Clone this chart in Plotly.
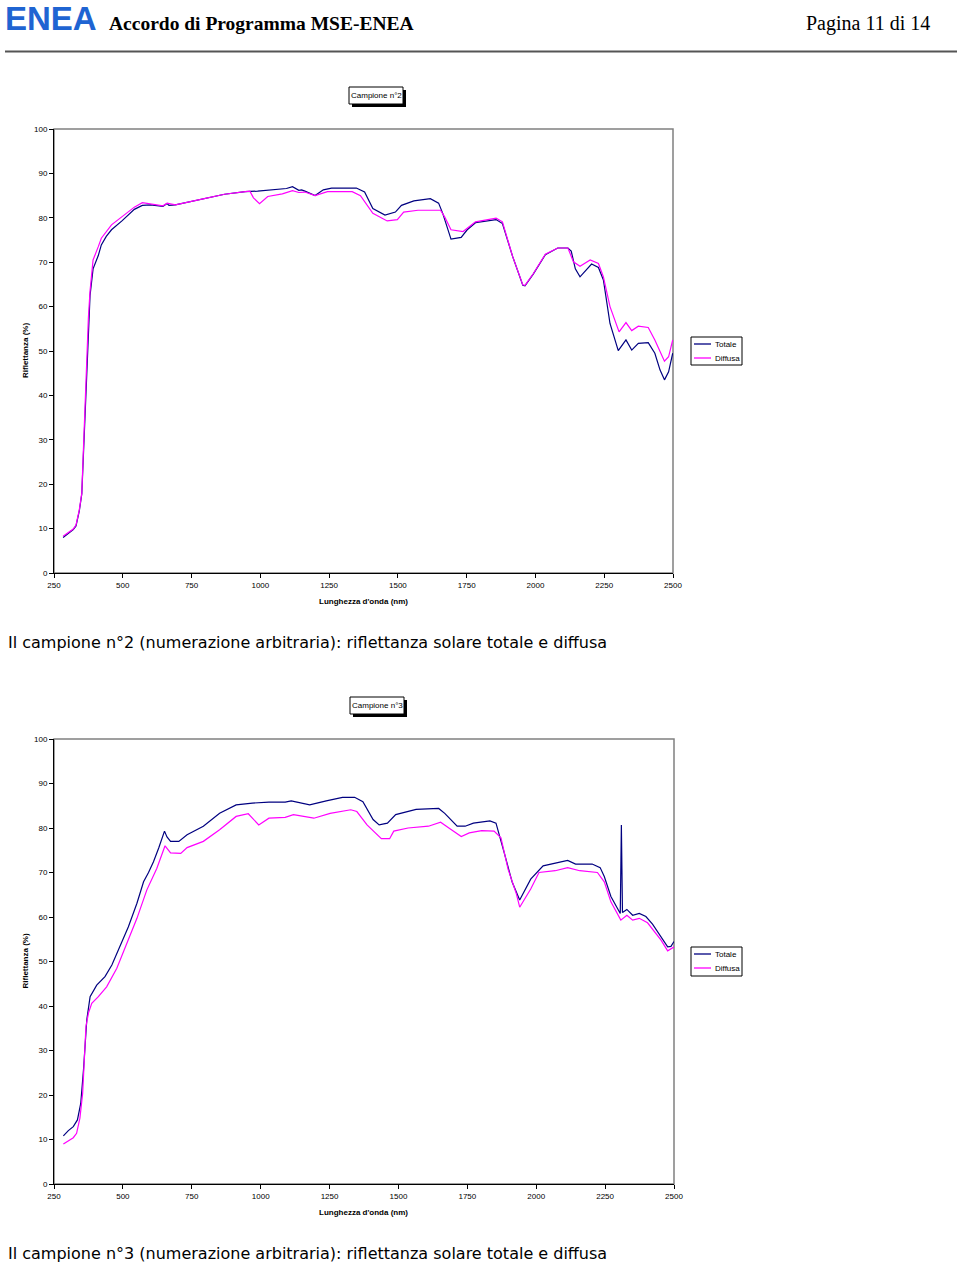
import plotly.graph_objects as go

# ---------------- DATA ----------------
# Campione n°2
wl_c2_tot = [283, 302, 320, 330, 342, 351, 357, 363, 369, 375, 381, 392, 411, 422, 440, 459, 497, 542, 571, 601,
             646, 661, 668, 691, 796, 870, 945, 990, 1095, 1117, 1140, 1150, 1162, 1199, 1229, 1259, 1349, 1379,
             1409, 1453, 1491, 1513, 1558, 1618, 1648, 1663, 1693, 1730, 1752, 1782, 1857, 1880, 1917, 1954, 1962,
             1992, 2036, 2081, 2118, 2130, 2145, 2162, 2204, 2229, 2247, 2271, 2301, 2329, 2350, 2374, 2410, 2434,
             2453, 2469, 2484, 2499]
r_c2_tot = [8.0, 9.0, 9.8, 10.6, 14.0, 17.8, 27.0, 36.0, 48.0, 56.5, 62.5, 68.5, 71.5, 73.9, 75.8, 77.3, 79.3, 81.9,
            82.8, 82.9, 82.6, 83.2, 82.8, 82.9, 84.3, 85.3, 85.9, 86.0, 86.6, 87.0, 86.2, 86.3, 86.0, 85.0, 86.3,
            86.7, 86.7, 85.8, 82.1, 80.6, 81.3, 82.8, 83.8, 84.3, 83.3, 81.0, 75.2, 75.6, 77.3, 78.9, 79.6, 78.7,
            71.3, 64.8, 64.7, 67.3, 71.7, 73.2, 73.2, 72.5, 68.5, 66.7, 69.6, 68.8, 66.0, 56.2, 50.1, 52.5, 50.2,
            51.7, 51.9, 49.5, 45.7, 43.5, 45.3, 49.5]

wl_c2_dif = [283, 302, 320, 330, 342, 351, 357, 363, 369, 375, 381, 392, 411, 422, 459, 497, 542, 571, 601, 646,
             661, 691, 796, 870, 945, 962, 975, 997, 1027, 1080, 1117, 1140, 1162, 1199, 1244, 1334, 1364, 1409,
             1461, 1498, 1521, 1573, 1655, 1670, 1693, 1737, 1782, 1857, 1880, 1917, 1954, 1962, 1992, 2036, 2081,
             2118, 2138, 2162, 2199, 2229, 2247, 2271, 2304, 2329, 2350, 2374, 2410, 2434, 2469, 2484, 2499]
r_c2_dif = [8.3, 9.2, 9.9, 10.8, 14.2, 18.0, 27.5, 37.0, 49.0, 57.5, 63.5, 70.5, 73.5, 75.4, 78.4, 80.2, 82.4, 83.4,
            83.1, 82.7, 83.3, 82.9, 84.3, 85.3, 85.9, 86.0, 84.5, 83.2, 84.8, 85.4, 86.1, 85.7, 85.8, 85.0, 85.9,
            85.9, 85.0, 81.0, 79.3, 79.6, 81.3, 81.7, 81.7, 80.2, 77.3, 76.9, 79.1, 79.9, 79.1, 71.3, 64.9, 64.8,
            67.4, 71.8, 73.2, 73.2, 70.1, 69.1, 70.5, 69.7, 66.7, 60.0, 54.3, 56.4, 54.6, 55.6, 55.3, 52.5, 47.7,
            48.7, 52.5]

# Campione n°3
wl_c3_tot = [284, 302, 320, 335, 347, 357, 369, 381, 405, 435, 460, 490, 520, 551, 575, 593, 611, 630, 645, 651,
             660, 673, 703, 733, 792, 851, 911, 970, 1030, 1089, 1111, 1178, 1238, 1297, 1341, 1371, 1408, 1430,
             1460, 1490, 1564, 1646, 1668, 1713, 1742, 1772, 1832, 1854, 1884, 1913, 1940, 1980, 2025, 2069, 2114,
             2143, 2203, 2232, 2247, 2271, 2305, 2309, 2313, 2329, 2350, 2374, 2398, 2422, 2453, 2477, 2489, 2500]
r_c3_tot = [10.8, 12.0, 12.9, 14.4, 18.1, 25.6, 36.9, 42.1, 44.7, 46.6, 49.2, 53.3, 57.8, 63.1, 67.9, 70.0, 72.4,
            75.5, 78.0, 79.3, 78.0, 77.0, 77.0, 78.5, 80.4, 83.3, 85.2, 85.6, 85.8, 85.8, 86.1, 85.2, 86.1, 86.9,
            86.9, 85.9, 81.9, 80.7, 81.1, 83.0, 84.2, 84.4, 83.3, 80.4, 80.4, 81.1, 81.6, 81.1, 74.4, 67.8, 63.8,
            68.5, 71.5, 72.1, 72.7, 71.9, 71.9, 71.1, 69.1, 64.6, 60.8, 80.7, 61.0, 61.7, 60.4, 60.8, 60.1, 58.4,
            55.6, 53.3, 53.4, 54.5]

wl_c3_dif = [284, 320, 332, 344, 354, 366, 375, 387, 411, 441, 478, 514, 551, 587, 623, 653, 673, 710, 733, 792,
             851, 911, 955, 970, 993, 1030, 1089, 1119, 1193, 1252, 1327, 1349, 1386, 1438, 1468, 1483, 1535, 1609,
             1653, 1683, 1728, 1757, 1802, 1847, 1872, 1898, 1928, 1940, 1980, 2010, 2069, 2114, 2158, 2222, 2247,
             2271, 2307, 2329, 2350, 2374, 2404, 2453, 2477, 2501]
r_c3_dif = [9.0, 10.4, 11.4, 14.8, 20.4, 35.4, 38.4, 40.6, 42.1, 44.3, 48.5, 54.1, 59.7, 66.1, 70.9, 76.0, 74.4,
            74.3, 75.6, 77.0, 79.6, 82.6, 83.2, 82.2, 80.7, 82.2, 82.4, 83.0, 82.2, 83.3, 84.1, 83.7, 80.7, 77.6,
            77.6, 79.3, 80.0, 80.4, 81.3, 80.0, 78.1, 78.9, 79.4, 79.3, 77.8, 70.7, 65.2, 62.2, 66.3, 70.0, 70.4,
            71.1, 70.4, 70.0, 67.9, 63.4, 59.3, 60.4, 59.3, 59.7, 58.7, 54.8, 52.4, 53.3]

x_ticks = [250, 500, 750, 1000, 1250, 1500, 1750, 2000, 2250, 2500]
y_ticks = [0, 10, 20, 30, 40, 50, 60, 70, 80, 90, 100]
series_names = ["Totale", "Diffusa"]
chart_titles = ["Campione n°2", "Campione n°3"]
captions = ["Il campione n°2 (numerazione arbitraria): riflettanza solare totale e diffusa",
            "Il campione n°3 (numerazione arbitraria): riflettanza solare totale e diffusa"]
x_title = "Lunghezza d'onda (nm)"
y_title = "Riflettanza (%)"

# ---------------- LAYOUT ----------------
W, H = 960, 1266
COL_TOT = "#000080"
COL_DIF = "#FF00FF"
SANS = "Liberation Sans, Arial, sans-serif"


def px(x):
    return x / W


def py(y):
    return 1 - y / H


fig = go.Figure()
fig.add_trace(go.Scatter(x=wl_c2_tot, y=r_c2_tot, mode="lines", name=series_names[0],
                         line=dict(color=COL_TOT, width=1.2), xaxis="x", yaxis="y", showlegend=False))
fig.add_trace(go.Scatter(x=wl_c2_dif, y=r_c2_dif, mode="lines", name=series_names[1],
                         line=dict(color=COL_DIF, width=1.2), xaxis="x", yaxis="y", showlegend=False))
fig.add_trace(go.Scatter(x=wl_c3_tot, y=r_c3_tot, mode="lines", name=series_names[0],
                         line=dict(color=COL_TOT, width=1.2), xaxis="x2", yaxis="y2", showlegend=False))
fig.add_trace(go.Scatter(x=wl_c3_dif, y=r_c3_dif, mode="lines", name=series_names[1],
                         line=dict(color=COL_DIF, width=1.2), xaxis="x2", yaxis="y2", showlegend=False))

axis_common = dict(showline=True, linecolor="black", linewidth=1, ticks="outside", ticklen=4,
                   tickcolor="black", showgrid=False, zeroline=False, automargin=False,
                   tickfont=dict(family=SANS, size=8, color="black"))

fig.update_layout(
    template="none",
    width=W, height=H, margin=dict(l=0, r=0, t=0, b=0, pad=0, autoexpand=False),
    paper_bgcolor="white", plot_bgcolor="white", showlegend=False,
    xaxis=dict(domain=[px(54), px(673)], anchor="y", range=[250, 2500], tickvals=x_ticks, **axis_common),
    yaxis=dict(domain=[py(573), py(129)], anchor="x", range=[0, 100], tickvals=y_ticks, **axis_common),
    xaxis2=dict(domain=[px(54), px(674)], anchor="y2", range=[250, 2500], tickvals=x_ticks, **axis_common),
    yaxis2=dict(domain=[py(1184), py(739)], anchor="x2", range=[0, 100], tickvals=y_ticks, **axis_common),
)

shapes = []
annotations = []

# plot area gray borders
for xa, ya in (("x", "y"), ("x2", "y2")):
    shapes.append(dict(type="rect", xref=xa + " domain", yref=ya + " domain", x0=0, x1=1, y0=0, y1=1,
                       line=dict(color="#808080", width=1.5), layer="below"))

# header
annotations.append(dict(text="<b>ENEA</b>", x=px(3), y=py(18), xref="paper", yref="paper", xanchor="left",
                        yanchor="middle", showarrow=False,
                        font=dict(family=SANS, size=33, color="#1f64d2")))
annotations.append(dict(text="<b>Accordo di Programma MSE-ENEA</b>", x=px(107), y=py(24), xref="paper",
                        yref="paper", xanchor="left", yanchor="middle", showarrow=False,
                        font=dict(family="Liberation Serif, Times New Roman, serif", size=19.5, color="black")))
annotations.append(dict(text="Pagina 11 di 14", x=px(932), y=py(24), xref="paper", yref="paper",
                        xanchor="right", yanchor="middle", showarrow=False,
                        font=dict(family="Liberation Serif, Times New Roman, serif", size=20, color="black")))
shapes.append(dict(type="line", xref="paper", yref="paper", x0=px(5), x1=px(957), y0=py(51.5), y1=py(51.5),
                   line=dict(color="#555555", width=2)))

# per-chart decorations
chart_geo = [
    dict(top=129, bottom=573, title_box=(349, 87, 403, 104), legend_box=(691, 337, 742, 365), caption_y=642),
    dict(top=739, bottom=1184, title_box=(350, 697, 404, 714), legend_box=(691, 947, 742, 976), caption_y=1253),
]
for i, g in enumerate(chart_geo):
    x0, y0, x1, y1 = g["title_box"]
    shapes.append(dict(type="rect", xref="paper", yref="paper", x0=px(x0 + 3), x1=px(x1 + 3), y0=py(y1 + 3),
                       y1=py(y0 + 3), fillcolor="black", line=dict(width=0), layer="above"))
    shapes.append(dict(type="rect", xref="paper", yref="paper", x0=px(x0), x1=px(x1), y0=py(y1), y1=py(y0),
                       fillcolor="white", line=dict(color="black", width=1), layer="above"))
    annotations.append(dict(text=chart_titles[i], x=px((x0 + x1) / 2), y=py((y0 + y1) / 2), xref="paper",
                            yref="paper", xanchor="center", yanchor="middle", showarrow=False,
                            font=dict(family=SANS, size=8, color="black")))
    # legend
    lx0, ly0, lx1, ly1 = g["legend_box"]
    shapes.append(dict(type="rect", xref="paper", yref="paper", x0=px(lx0), x1=px(lx1), y0=py(ly1), y1=py(ly0),
                       fillcolor="white", line=dict(color="black", width=1), layer="above"))
    for j, (nm, col) in enumerate(zip(series_names, [COL_TOT, COL_DIF])):
        yy = ly0 + 7 + j * 14
        shapes.append(dict(type="line", xref="paper", yref="paper", x0=px(lx0 + 3), x1=px(lx0 + 20),
                           y0=py(yy), y1=py(yy), line=dict(color=col, width=1.3), layer="above"))
        annotations.append(dict(text=nm, x=px(lx0 + 22), y=py(yy), xref="paper", yref="paper",
                                xanchor="left", yanchor="middle", showarrow=False,
                                font=dict(family=SANS, size=8, color="black")))
    # axis titles
    annotations.append(dict(text="<b>" + x_title + "</b>", x=px(363), y=py(g["bottom"] + 28), xref="paper",
                            yref="paper", xanchor="center", yanchor="middle", showarrow=False,
                            font=dict(family=SANS, size=8, color="black")))
    annotations.append(dict(text="<b>" + y_title + "</b>", x=px(25), y=py((g["top"] + g["bottom"]) / 2),
                            xref="paper", yref="paper", xanchor="center", yanchor="middle", showarrow=False,
                            textangle=-90, font=dict(family=SANS, size=8, color="black")))
    # caption
    annotations.append(dict(text=captions[i], x=px(6), y=py(g["caption_y"]), xref="paper", yref="paper",
                            xanchor="left", yanchor="middle", showarrow=False,
                            font=dict(family="DejaVu Sans, Verdana, sans-serif", size=16, color="black")))

fig.update_layout(shapes=shapes, annotations=annotations)
fig.write_html("out.html", config={"displayModeBar": False},
               post_script="document.body.style.margin='0';document.body.style.overflow='hidden';")
